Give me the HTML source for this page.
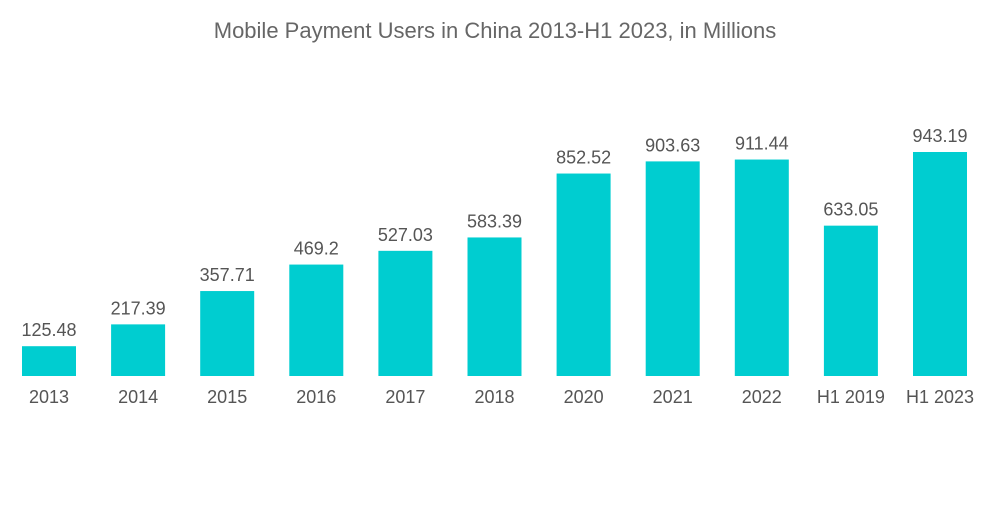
<!DOCTYPE html>
<html><head><meta charset="utf-8"><style>
body{margin:0;background:#fff;font-family:"Liberation Sans",sans-serif;}
</style></head><body>
<svg width="1000" height="504">
<text x="495" y="38" text-anchor="middle" font-size="22" fill="#666">Mobile Payment Users in China 2013-H1 2023, in Millions</text>
<g id="bars"></g>
</svg>
<script>
const categories=["2013","2014","2015","2016","2017","2018","2020","2021","2022","H1 2019","H1 2023"];
const values=[125.48,217.39,357.71,469.2,527.03,583.39,852.52,903.63,911.44,633.05,943.19];
const labels=["125.48","217.39","357.71","469.2","527.03","583.39","852.52","903.63","911.44","633.05","943.19"];
const ns="http://www.w3.org/2000/svg";
const g=document.getElementById('bars');
const base=376, scale=224/943.19, x0=49, step=89.1, bw=54;
function xPos(i){return x0+i*step;}
function yPos(v){return base-v*scale;}
values.forEach((v,i)=>{
  const r=document.createElementNS(ns,'rect');
  r.setAttribute('x',xPos(i)-bw/2);r.setAttribute('y',yPos(v));
  r.setAttribute('width',bw);r.setAttribute('height',base-yPos(v));
  r.setAttribute('fill','#00cdd0');
  
  
  g.appendChild(r);
  const t=document.createElementNS(ns,'text');
  t.setAttribute('x',xPos(i));t.setAttribute('y',yPos(v)-10);
  t.setAttribute('text-anchor','middle');t.setAttribute('font-size','18');t.setAttribute('fill','#555');
  t.textContent=labels[i];
  
  
  g.appendChild(t);
  const c=document.createElementNS(ns,'text');
  c.setAttribute('x',xPos(i));c.setAttribute('y',403);
  c.setAttribute('text-anchor','middle');c.setAttribute('font-size','18');c.setAttribute('fill','#555');
  c.textContent=categories[i];
  
  
  g.appendChild(c);
});
</script>
</body></html>
